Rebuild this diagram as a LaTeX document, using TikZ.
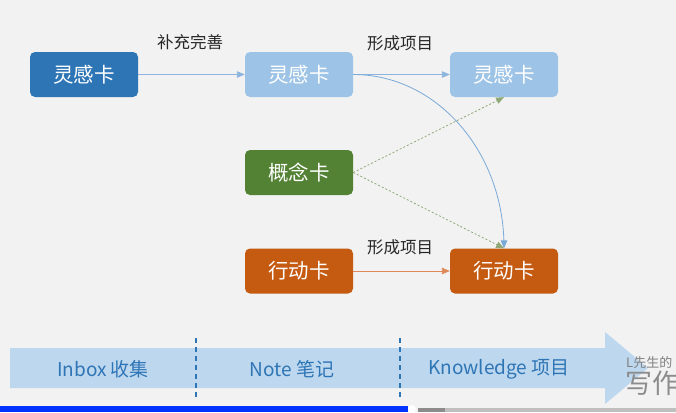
\documentclass[tikz,border=0pt]{standalone}
\usepackage{fontspec}
\setmainfont{Noto Sans CJK SC}
\usepackage{tikz}
\usetikzlibrary{arrows}
\definecolor{bg}{HTML}{F2F2F2}
\definecolor{ideadark}{HTML}{2E75B6}
\definecolor{idealight}{HTML}{9DC3E6}
\definecolor{concept}{HTML}{548235}
\definecolor{action}{HTML}{C55A11}
\definecolor{band}{HTML}{BDD7EE}
\definecolor{bandtext}{HTML}{2E75B6}
\definecolor{linkblue}{HTML}{8DB6DF}
\definecolor{linkgreen}{HTML}{8FAA78}
\definecolor{linkorange}{HTML}{E08A5C}
\tikzstyle{card}=[rounded corners=5pt,minimum width=108pt,minimum height=45pt,inner sep=0pt,text=white,font=\fontsize{20.5}{23}\selectfont]
\tikzstyle{tag}=[font=\fontsize{16.5}{19}\selectfont,text=black!85]
\tikzstyle{stage}=[font=\fontsize{19}{22}\selectfont,text=bandtext]
\tikzstyle{flow}=[-triangle 45,line width=0.8pt]

\begin{document}
\begin{tikzpicture}[x=1pt,y=-1pt]
\fill[bg] (0,0) rectangle (676,412);
\useasboundingbox (0,0) rectangle (676,412);
\node[card,fill=ideadark] (i1) at (84,74.5) {灵感卡};
\node[card,fill=idealight] (i2) at (299,74.5) {灵感卡};
\node[card,fill=idealight] (i3) at (504,74.5) {灵感卡};
\node[card,fill=concept] (c) at (299,172.5) {概念卡};
\node[card,fill=action] (a1) at (299,271) {行动卡};
\node[card,fill=action] (a2) at (504,271) {行动卡};
\node[tag] (t1) at (190,42) {补充完善};
\node[tag] (t2) at (400,43) {形成项目};
\node[tag] (t3) at (400,247) {形成项目};
\draw[flow,linkblue] (i1) -- (i2);
\draw[flow,linkblue] (i2) -- (i3);
\draw[flow,linkblue!80!ideadark] (i2.east) .. controls +(83,0) and +(0,-97) .. (a2.north);
\draw[flow,linkgreen,dash pattern=on 2pt off 2pt] (c.east) -- (i3.south);
\draw[flow,linkgreen,dash pattern=on 2pt off 2pt] (c.east) -- (a2.north);
\draw[flow,linkorange] (a1) -- (a2);
% stages
\fill[band] (10,348) -- (605,348) -- (605,332) -- (648,368) -- (605,404) -- (605,388) -- (10,388) -- cycle;
\draw[bandtext,line width=1.1pt,dash pattern=on 5pt off 4pt] (196,338) -- (196,398);
\draw[bandtext,line width=1.1pt,dash pattern=on 5pt off 4pt] (400,338) -- (400,398);
\node[stage] (s1) at (103,369) {Inbox 收集};
\node[stage] (s2) at (292,369) {Note 笔记};
\node[stage] (s3) at (499,369) {Knowledge 项目};
% watermark and player bar
\node[anchor=west,inner sep=0pt,text=black!50,font=\fontsize{13}{14}\selectfont] (w1) at (626,363) {L先生的};
\node[anchor=west,inner sep=0pt,text=black!45,font=\fontsize{27}{29}\selectfont] (w2) at (625,383) {写作};
\fill[blue!80!cyan] (0,406) rectangle (408,412);
\fill[black!45] (418,408) rectangle (445,412);
\fill[black!25] (445,408) rectangle (676,412);
\fill[white] (412,409) circle (4);
\end{tikzpicture}
\end{document}
